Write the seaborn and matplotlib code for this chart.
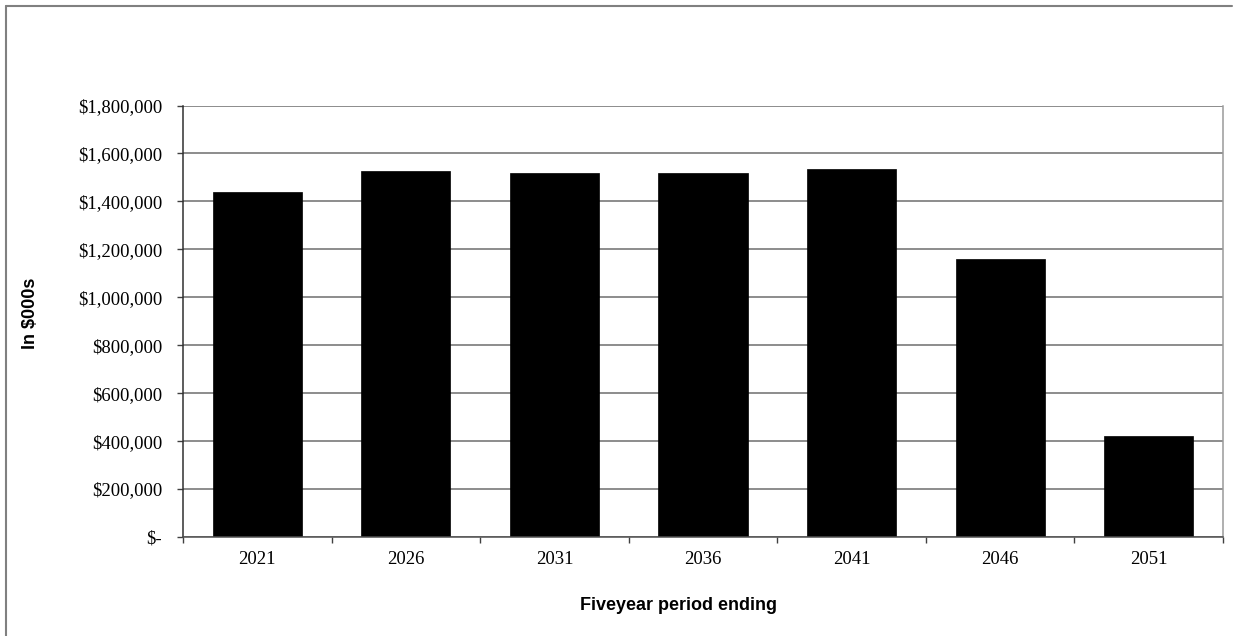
import matplotlib
matplotlib.use("Agg")
import matplotlib.pyplot as plt
from matplotlib.lines import Line2D
from matplotlib.ticker import FixedLocator
import seaborn as sns
import pandas as pd

# ---- data ----
periods = ["2021", "2026", "2031", "2036", "2041", "2046", "2051"]
values = [1440000, 1527000, 1518000, 1518000, 1535000, 1158000, 420000]
y_ticks = [0, 200000, 400000, 600000, 800000, 1000000, 1200000, 1400000, 1600000, 1800000]
y_tick_labels = ["$-", "$200,000", "$400,000", "$600,000", "$800,000", "$1,000,000",
                 "$1,200,000", "$1,400,000", "$1,600,000", "$1,800,000"]
x_title = "Fiveyear period ending"
y_title = "In $000s"

df = pd.DataFrame({"period": periods, "value": values})

sns.set_theme(style="white")
W, H = 1241, 636
fig = plt.figure(figsize=(W / 100, H / 100), dpi=100)
fig.patch.set_facecolor("white")
ax = fig.add_axes([183 / W, 1 - 537 / H, (1223 - 183) / W, (537 - 105.5) / H])

sns.barplot(data=df, x="period", y="value", order=periods, color="black",
            edgecolor="black", linewidth=0.5, width=0.6, saturation=1, ax=ax)

ax.set_xlim(-0.5, len(periods) - 0.5)
ax.set_ylim(0, y_ticks[-1])
ax.set_yticks(y_ticks)
ax.set_yticklabels(y_tick_labels, family="Liberation Serif", fontsize=13.5, color="black")
ax.set_xticks(range(len(periods)))
ax.set_xticklabels(periods, family="Liberation Serif", fontsize=13.5, color="black")
ax.xaxis.set_minor_locator(FixedLocator([i - 0.5 for i in range(len(periods) + 1)]))

ax.tick_params(axis="x", which="major", length=0, pad=10)
ax.tick_params(axis="x", which="minor", length=4, width=1, color="#404040", direction="out", bottom=True)
ax.tick_params(axis="y", which="major", length=4, width=1, color="#404040", direction="out", left=True, pad=11)

ax.set_axisbelow(True)
ax.yaxis.grid(True, color="#6e6e6e", linewidth=1.1)
ax.xaxis.grid(False)

for side in ["top"]:
    ax.spines[side].set_visible(False)
ax.spines["left"].set_color("#303030")
ax.spines["left"].set_linewidth(1.1)
ax.spines["bottom"].set_color("#505050")
ax.spines["bottom"].set_linewidth(1.1)
ax.spines["right"].set_color("#9a9a9a")
ax.spines["right"].set_linewidth(1.1)

ax.set_xlabel(x_title, family="Liberation Sans", fontweight="bold", fontsize=13, color="black")
ax.set_ylabel(y_title, family="Liberation Sans", fontweight="bold", fontsize=13, color="black")
ax.xaxis.set_label_coords((679 - 183) / 1040, (537 - 605) / 431.5)
ax.xaxis.label.set_va("center")
ax.yaxis.set_label_coords((30.5 - 183) / 1040, (537 - 313.5) / 431.5)
ax.yaxis.label.set_va("center")

# figure border (top and left visible)
fig.add_artist(Line2D([5.5 / W, 5.5 / W], [0, 1 - 5.5 / H], transform=fig.transFigure,
                      color="#808080", linewidth=1.5))
fig.add_artist(Line2D([5.5 / W, 1232 / W], [1 - 5.5 / H, 1 - 5.5 / H], transform=fig.transFigure,
                      color="#808080", linewidth=1.5))

fig.savefig("out.png", dpi=100, facecolor="white")
